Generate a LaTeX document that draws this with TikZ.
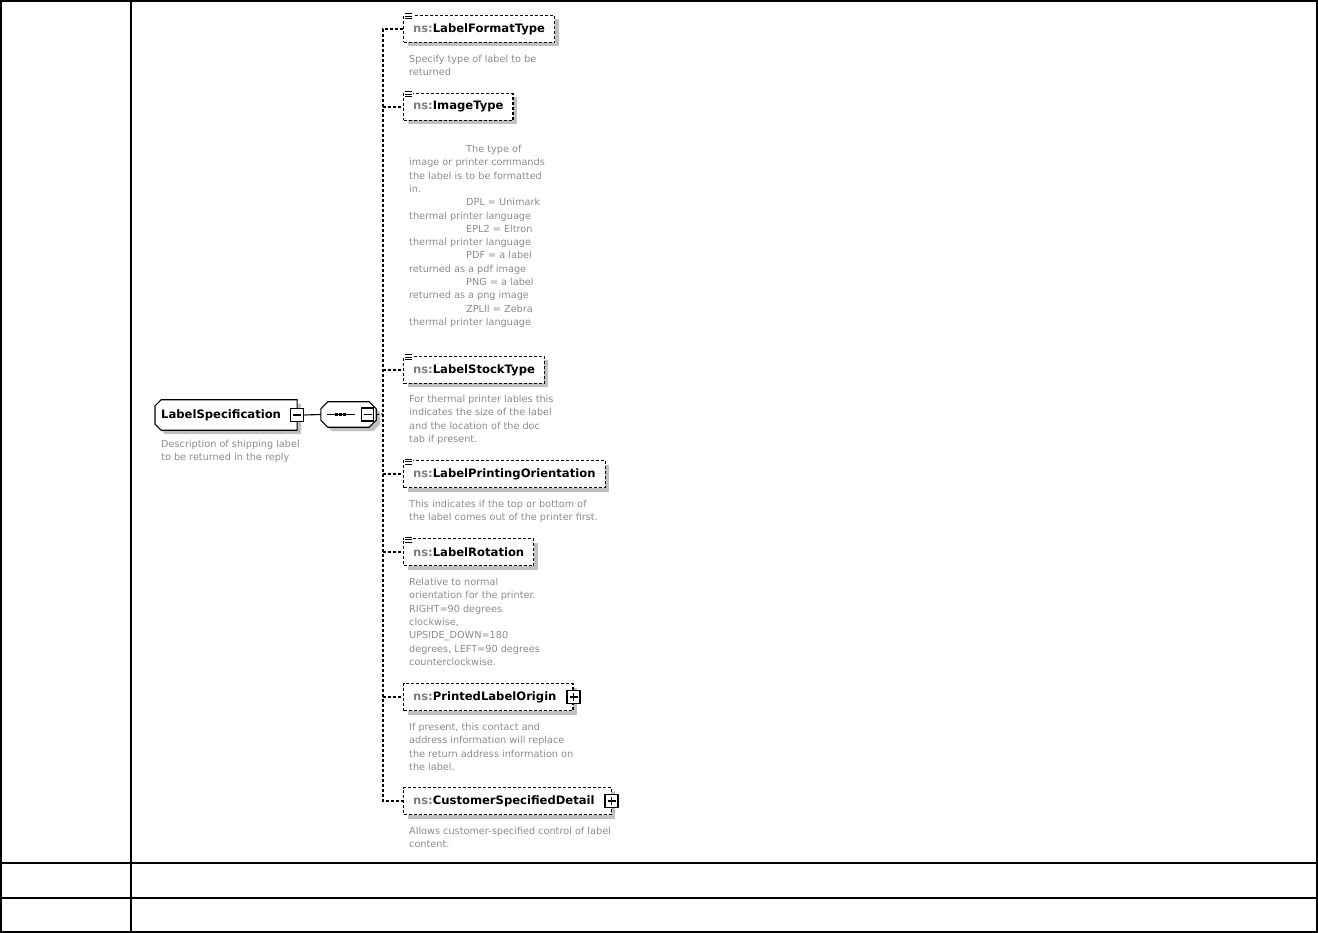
\documentclass[tikz,border=0pt]{standalone}
\usepackage{fontspec}
\setmainfont{DejaVu Sans}
\usetikzlibrary{calc}
\pgfdeclarelayer{bg}
\pgfsetlayers{bg,main}
\definecolor{descgray}{RGB}{140,140,140}
\definecolor{nsgray}{RGB}{128,128,128}
\definecolor{shadowgray}{RGB}{192,192,192}
\newcommand{\nsp}{{\color{nsgray}ns:}}
\begin{document}
\begin{tikzpicture}[x=1pt,y=-1pt,
  tbl/.style={line width=2pt},
  shadowed/.style={preaction={fill=shadowgray,draw=none,transform canvas={xshift=4pt,yshift=-4pt}}},
  namefont/.style={font=\fontsize{11.6}{14}\selectfont\bfseries},
  elem/.style={draw, line width=1.1pt, dash pattern=on 3pt off 2pt, fill=white, shadowed,
    minimum height=27pt, inner xsep=9.5pt, inner ysep=0pt, anchor=west, namefont},
  desc/.style={anchor=north west, inner sep=0pt, align=left, text=descgray,
    font=\fontsize{9.7}{13.3}\selectfont},
  branch/.style={line width=1.1pt, dash pattern=on 3pt off 2pt},
  pmbox/.style={draw, line width=1.5pt, fill=white, minimum width=13pt, minimum height=13pt, inner sep=0pt},
  pmline/.style={line width=1.1pt},
  icon/.style={line width=0.9pt}
]
\useasboundingbox (0,0) rectangle (1318,933);

% table
\draw[tbl] (1,1) rectangle (1317,932);
\draw[tbl] (131,1) -- (131,932);
\draw[tbl] (1,863) -- (1317,863);
\draw[tbl] (1,898) -- (1317,898);

% main element
\node[namefont, minimum height=30pt, inner xsep=6pt, inner ysep=0pt, anchor=west] (ls) at (155,415) {LabelSpecification\hspace*{10pt}};
\begin{pgfonlayer}{bg}
\draw[line width=1.1pt, fill=white, shadowed] ([xshift=6pt]ls.north west) -- (ls.north east) -- (ls.south east) -- ([xshift=6pt]ls.south west) -- ([yshift=6pt]ls.south west) -- ([yshift=-6pt]ls.north west) -- cycle;
\end{pgfonlayer}
\node[pmbox] (lsm) at (ls.east) {};
\draw[pmline] ([xshift=-4pt]lsm.center) -- ([xshift=4pt]lsm.center);
\node[desc] (d0) at (161,440) {Description of shipping label\\to be returned in the reply};

% sequence compositor
\node[minimum width=55pt, minimum height=25pt, inner sep=0pt] (seq) at (348.5,414.5) {};
\begin{pgfonlayer}{bg}
\draw[line width=1.1pt, fill=white, shadowed] ([xshift=7pt]seq.north west) -- ([xshift=-7pt]seq.north east) -- ([yshift=-7pt]seq.north east) -- ([yshift=7pt]seq.south east) -- ([xshift=-7pt]seq.south east) -- ([xshift=7pt]seq.south west) -- ([yshift=7pt]seq.south west) -- ([yshift=-7pt]seq.north west) -- cycle;
\end{pgfonlayer}
\draw[line width=1.1pt] ([xshift=6pt]seq.west) -- ([xshift=34pt]seq.west);
\foreach \dx in {16,20,24} {\fill ([xshift=\dx pt]seq.west) +(-1.6,-1.6) rectangle +(1.6,1.6);}
\node[pmbox, minimum width=12pt, minimum height=13pt] (seqm) at ([xshift=-8.5pt]seq.east) {};
\draw[pmline] ([xshift=-4pt]seqm.center) -- ([xshift=4pt]seqm.center);

\draw[line width=1.1pt] (lsm.east) -- (seq.west);
\coordinate (j) at (383,414);
\draw[branch] (seq.east) -- (j);

% children
\node[elem] (c1) at (403,29) {\nsp LabelFormatType};
\node[elem] (c2) at (403,107) {\nsp ImageType};
\node[elem] (c3) at (403,370) {\nsp LabelStockType};
\node[elem] (c4) at (403,474) {\nsp LabelPrintingOrientation};
\node[elem] (c5) at (403,552) {\nsp LabelRotation};
\node[elem] (c6) at (403,697) {\nsp PrintedLabelOrigin\hspace*{7pt}};
\node[elem] (c7) at (403,801) {\nsp CustomerSpecifiedDetail\hspace*{7pt}};

% plus boxes
\foreach \n in {c6,c7} {
  \node[pmbox] (\n p) at (\n.east) {};
  \draw[pmline] ([xshift=-4pt]\n p.center) -- ([xshift=4pt]\n p.center);
  \draw[pmline] ([yshift=-4pt]\n p.center) -- ([yshift=4pt]\n p.center);
}

% simple-type icons
\foreach \n in {c1,c2,c3,c4,c5} {
  \fill[white] ([shift={(0.5,-2)}]\n.north west) rectangle ([shift={(9.5,5)}]\n.north west);
  \foreach \dy in {-1,1.5,4} {
    \draw[icon] ([shift={(1.5,\dy)}]\n.north west) -- ([shift={(8.5,\dy)}]\n.north west);
  }
}

% trunk and branches
\draw[branch] (c1.west) -- (j |- c1.west) -- (j |- c7.west) -- (c7.west);
\foreach \n in {c2,c3,c4,c5,c6} {
  \draw[branch] (j |- \n.west) -- (\n.west);
}

% descriptions
\node[desc] (d1) at (409,55) {Specify type of label to be\\returned};
\node[desc] (d2) at (409,145) {\hspace*{57pt}The type of\\image or printer commands\\the label is to be formatted\\in.\\\hspace*{57pt}DPL = Unimark\\thermal printer language\\\hspace*{57pt}EPL2 = Eltron\\thermal printer language\\\hspace*{57pt}PDF = a label\\returned as a pdf image\\\hspace*{57pt}PNG = a label\\returned as a png image\\\hspace*{57pt}ZPLII = Zebra\\thermal printer language};
\node[desc] (d3) at (409,395) {For thermal printer lables this\\indicates the size of the label\\and the location of the doc\\tab if present.};
\node[desc] (d4) at (409,500) {This indicates if the top or bottom of\\the label comes out of the printer first.};
\node[desc] (d5) at (409,578) {Relative to normal\\orientation for the printer.\\RIGHT=90 degrees\\clockwise,\\UPSIDE\_DOWN=180\\degrees, LEFT=90 degrees\\counterclockwise.};
\node[desc] (d6) at (409,723) {If present, this contact and\\address information will replace\\the return address information on\\the label.};
\node[desc] (d7) at (409,827) {Allows customer-specified control of label\\content.};
\end{tikzpicture}
\end{document}
